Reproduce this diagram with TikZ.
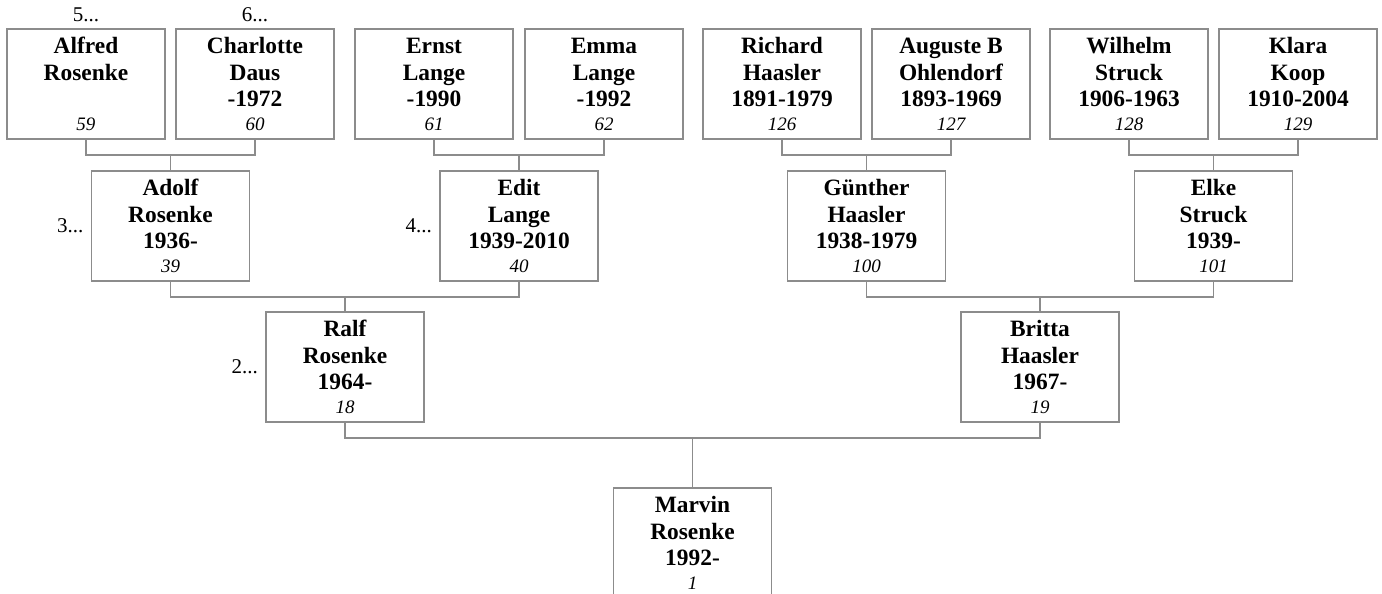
\documentclass[tikz,border=0pt]{standalone}
\usepackage{fontspec}
\setmainfont{Liberation Serif}
\usetikzlibrary{positioning}

\definecolor{framegray}{RGB}{140,140,140}
\newcommand{\person}[4]{\vphantom{Ald}#1\\#2\\\mbox{}#3\\[-1.5pt]{\mdseries\itshape\fontsize{9.5}{11}\selectfont #4}}

\begin{document}
\begin{tikzpicture}[x=0.5pt,y=-0.5pt,
		box/.style={draw=framegray, line width=0.8pt, fill=white, minimum width=79pt, minimum height=55pt, inner sep=0pt, align=center, font=\fontsize{11.7}{13.25}\selectfont\bfseries},
		link/.style={framegray, line width=0.8pt},
		gen/.style={font=\fontsize{10.5}{12}\selectfont, inner sep=0pt}]
		\useasboundingbox (0,0) rectangle (1382,594);
		\clip (0,0) rectangle (1382,594);
		
		\node[box] (alfred) at (86,84) {\person{Alfred}{Rosenke}{}{59}};
		\node[box] (charlotte) at (255,84) {\person{Charlotte}{Daus}{-1972}{60}};
		\node[box] (ernst) at (434,84) {\person{Ernst}{Lange}{-1990}{61}};
		\node[box] (emma) at (604,84) {\person{Emma}{Lange}{-1992}{62}};
		\node[box] (richard) at (782,84) {\person{Richard}{Haasler}{1891-1979}{126}};
		\node[box] (auguste) at (951,84) {\person{Auguste B}{Ohlendorf}{1893-1969}{127}};
		\node[box] (wilhelm) at (1129,84) {\person{Wilhelm}{Struck}{1906-1963}{128}};
		\node[box] (klara) at (1298,84) {\person{Klara}{Koop}{1910-2004}{129}};
		
		\node[box] (adolf) at (170.5,226) {\person{Adolf}{Rosenke}{1936-}{39}};
		\node[box] (edit) at (519,226) {\person{Edit}{Lange}{1939-2010}{40}};
		\node[box] (guenther) at (866.5,226) {\person{Günther}{Haasler}{1938-1979}{100}};
		\node[box] (elke) at (1213.5,226) {\person{Elke}{Struck}{1939-}{101}};
		
		\node[box] (ralf) at (345,367) {\person{Ralf}{Rosenke}{1964-}{18}};
		\node[box] (britta) at (1040,367) {\person{Britta}{Haasler}{1967-}{19}};
		
		\node[box] (marvin) at (692.5,543) {\person{Marvin}{Rosenke}{1992-}{1}};
		
		\draw[link] (alfred.south) -- ++(0,15) coordinate (bar1) -| (charlotte.south);
		\draw[link] (adolf.north) -- (adolf.north |- bar1);
		\draw[link] (ernst.south) -- ++(0,15) coordinate (bar2) -| (emma.south);
		\draw[link] (edit.north) -- (edit.north |- bar2);
		\draw[link] (richard.south) -- ++(0,15) coordinate (bar3) -| (auguste.south);
		\draw[link] (guenther.north) -- (guenther.north |- bar3);
		\draw[link] (wilhelm.south) -- ++(0,15) coordinate (bar4) -| (klara.south);
		\draw[link] (elke.north) -- (elke.north |- bar4);
		
		\draw[link] (adolf.south) -- ++(0,15) coordinate (bar5) -| (edit.south);
		\draw[link] (ralf.north) -- (ralf.north |- bar5);
		\draw[link] (guenther.south) -- ++(0,15) coordinate (bar6) -| (elke.south);
		\draw[link] (britta.north) -- (britta.north |- bar6);
		
		\draw[link] (ralf.south) -- ++(0,15) coordinate (bar7) -| (britta.south);
		\draw[link] (marvin.north) -- (marvin.north |- bar7);
		
		\node[gen, above=3pt of alfred] (more5) {5...};
		\node[gen, above=3pt of charlotte] (more6) {6...};
		\node[gen, left=3.5pt of adolf] (more3) {3...};
		\node[gen, left=3.5pt of edit] (more4) {4...};
		\node[gen, left=3.5pt of ralf] (more2) {2...};
	\end{tikzpicture}
\end{document}
